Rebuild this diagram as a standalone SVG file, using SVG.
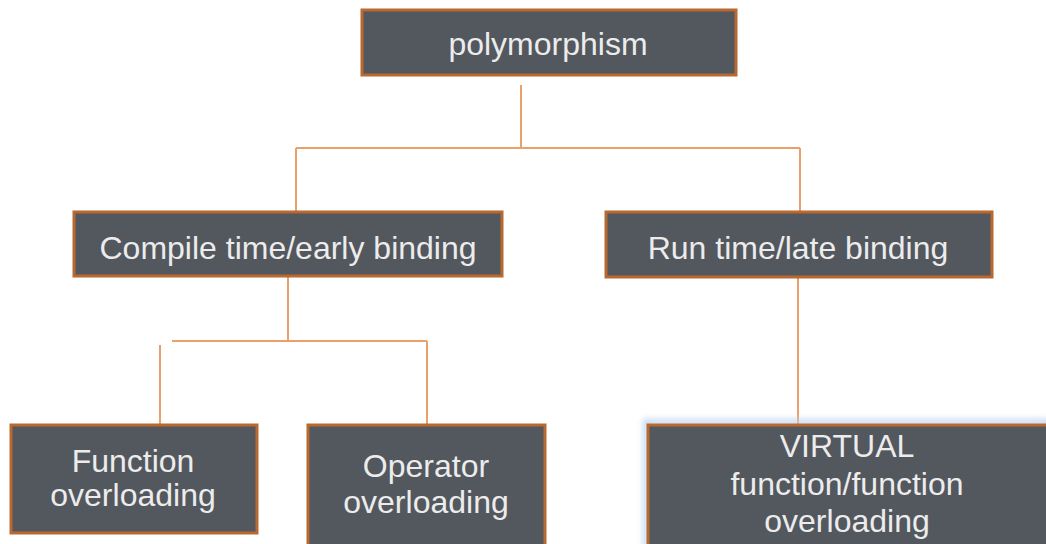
<svg xmlns="http://www.w3.org/2000/svg" width="1046" height="544" viewBox="0 0 1046 544">
<style>
.box{fill:#53575e;stroke:#b8692f;stroke-width:3}
.lbl{font-family:"Liberation Sans",Arial,sans-serif;font-size:32px;fill:#ececec;text-anchor:middle}
.conn{fill:none;stroke:#e9a06a;stroke-width:2}
</style>
<defs>
<filter id="glow" x="-10%" y="-20%" width="120%" height="140%">
<feGaussianBlur stdDeviation="3"/>
</filter>
</defs>
<rect width="1046" height="544" fill="#ffffff"/>
<g id="connectors">
<path class="conn" d="M521 85 V148 M296 148 H800 M296 148 V212 M800 148 V212"/>
<path class="conn" d="M288 277 V341 M172 341 H427 M427 341 V425 M160 345 V425"/>
<path class="conn" d="M798 278 V425"/>
</g>
<g id="polymorphism">
<rect class="box" x="362" y="10" width="374" height="65"/>
<text class="lbl" x="548" y="55">polymorphism</text>
</g>
<g id="compile">
<rect class="box" x="74" y="212" width="428" height="64"/>
<text class="lbl" x="288" y="259">Compile time/early binding</text>
</g>
<g id="runtime">
<rect class="box" x="606" y="212" width="386" height="65"/>
<text class="lbl" x="798" y="259">Run time/late binding</text>
</g>
<g id="function">
<rect class="box" x="11" y="425" width="246" height="108"/>
<text class="lbl" x="133" y="472">Function</text>
<text class="lbl" x="133" y="506">overloading</text>
</g>
<g id="operator">
<rect class="box" x="308" y="425" width="237" height="121"/>
<text class="lbl" x="426" y="477">Operator</text>
<text class="lbl" x="426" y="513">overloading</text>
</g>
<g id="virtual">
<rect x="646" y="422" width="402" height="130" fill="none" stroke="#b9d0f0" stroke-width="5" filter="url(#glow)"/>
<rect class="box" x="648" y="425" width="400" height="121"/>
<text class="lbl" x="847" y="457">VIRTUAL</text>
<text class="lbl" x="847" y="495">function/function</text>
<text class="lbl" x="847" y="532">overloading</text>
</g>
</svg>
